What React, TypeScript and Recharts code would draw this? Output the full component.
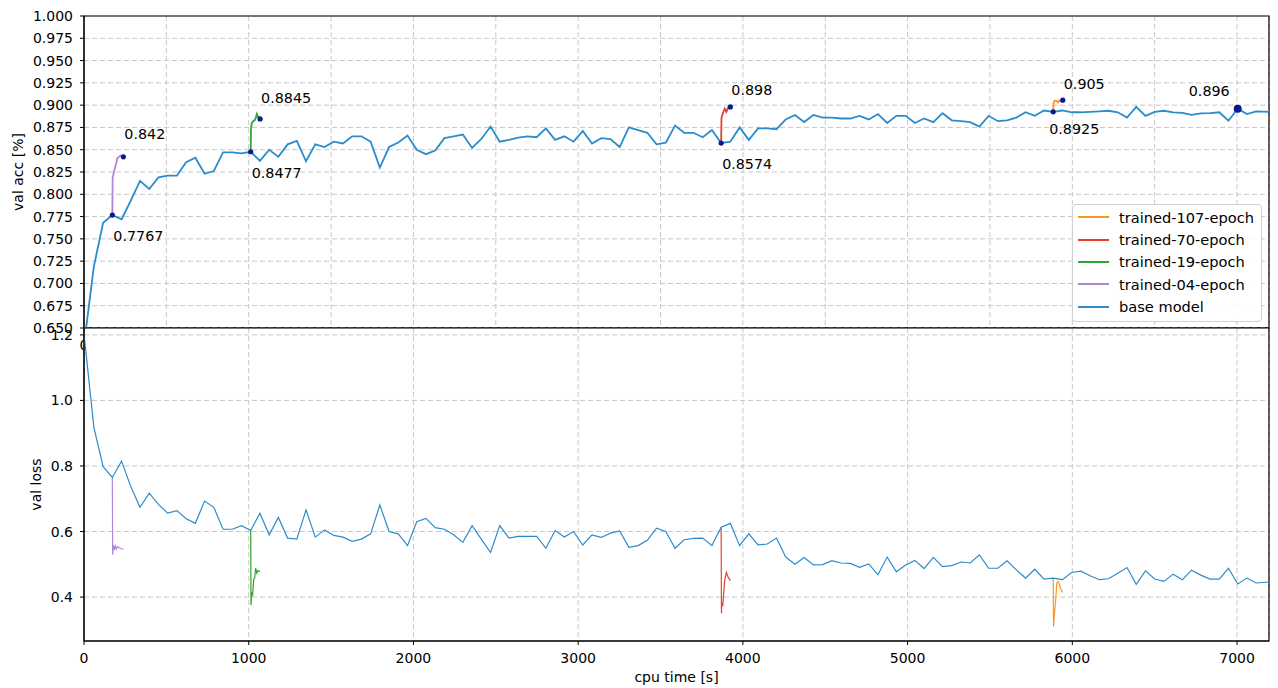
import React from 'react';
import { LineChart, Line, XAxis, YAxis, CartesianGrid, ReferenceDot, ReferenceArea, Legend } from 'recharts';

// base model: cpu time [s], val acc, val loss per epoch
const cpuTime = [
  4, 60, 116, 172, 228, 284, 340, 396, 452, 508, 564, 620, 676, 732, 788, 844, 900, 956, 1012, 1068,
  1124, 1180, 1236, 1292, 1348, 1404, 1460, 1516, 1572, 1628, 1684, 1740, 1796, 1852, 1908, 1964, 2020, 2076, 2132, 2188,
  2244, 2300, 2356, 2412, 2468, 2524, 2580, 2636, 2692, 2748, 2804, 2860, 2916, 2972, 3028, 3084, 3140, 3196, 3252, 3308,
  3364, 3420, 3476, 3532, 3588, 3644, 3700, 3756, 3812, 3868, 3924, 3980, 4036, 4092, 4148, 4204, 4260, 4316, 4372, 4428,
  4484, 4540, 4596, 4652, 4708, 4764, 4820, 4876, 4932, 4988, 5044, 5100, 5156, 5212, 5268, 5324, 5380, 5436, 5492, 5548,
  5604, 5660, 5716, 5772, 5828, 5884, 5940, 5996, 6052, 6108, 6164, 6220, 6276, 6332, 6388, 6444, 6500, 6556, 6612, 6668,
  6724, 6780, 6836, 6892, 6948, 7004, 7060, 7116, 7194,
];
const baseAcc = [
  0.637, 0.719, 0.768, 0.7767, 0.772, 0.793, 0.815, 0.806, 0.819, 0.821, 0.821, 0.836, 0.841, 0.823, 0.826, 0.847, 0.847, 0.846, 0.8477, 0.8375,
  0.85, 0.842, 0.856, 0.86, 0.837, 0.856, 0.853, 0.859, 0.857, 0.865, 0.865, 0.859, 0.83, 0.853, 0.858, 0.866, 0.85, 0.845, 0.849, 0.863,
  0.865, 0.867, 0.852, 0.862, 0.876, 0.859, 0.861, 0.8635, 0.865, 0.864, 0.874, 0.861, 0.865, 0.859, 0.871, 0.857, 0.863, 0.862, 0.853, 0.875,
  0.872, 0.869, 0.856, 0.858, 0.877, 0.869, 0.869, 0.864, 0.872, 0.8574, 0.859, 0.875, 0.861, 0.874, 0.874, 0.873, 0.884, 0.889, 0.881, 0.889,
  0.886, 0.886, 0.885, 0.885, 0.888, 0.884, 0.89, 0.88, 0.888, 0.888, 0.88, 0.885, 0.881, 0.891, 0.883, 0.882, 0.881, 0.876, 0.888, 0.882,
  0.883, 0.886, 0.892, 0.888, 0.894, 0.8925, 0.894, 0.892, 0.892, 0.8925, 0.893, 0.8937, 0.892, 0.886, 0.898, 0.888, 0.8925, 0.8937, 0.892, 0.8914,
  0.889, 0.8907, 0.891, 0.892, 0.8825, 0.896, 0.89, 0.893, 0.8925,
];
const baseLoss = [
  1.184, 0.918, 0.798, 0.765, 0.815, 0.737, 0.674, 0.717, 0.683, 0.656, 0.664, 0.639, 0.625, 0.693, 0.674, 0.607, 0.607, 0.618, 0.603, 0.656,
  0.59, 0.643, 0.58, 0.577, 0.666, 0.583, 0.605, 0.588, 0.583, 0.57, 0.577, 0.593, 0.681, 0.6, 0.593, 0.557, 0.63, 0.64, 0.612, 0.607,
  0.59, 0.567, 0.618, 0.577, 0.536, 0.618, 0.58, 0.585, 0.585, 0.585, 0.549, 0.603, 0.583, 0.6, 0.559, 0.59, 0.582, 0.595, 0.602, 0.552,
  0.557, 0.573, 0.61, 0.6, 0.549, 0.575, 0.579, 0.58, 0.557, 0.613, 0.625, 0.557, 0.593, 0.559, 0.562, 0.58, 0.522, 0.5, 0.521, 0.498,
  0.499, 0.511, 0.504, 0.503, 0.491, 0.501, 0.468, 0.522, 0.477, 0.498, 0.512, 0.487, 0.521, 0.493, 0.496, 0.507, 0.504, 0.529, 0.488, 0.488,
  0.511, 0.483, 0.458, 0.485, 0.455, 0.458, 0.453, 0.475, 0.479, 0.465, 0.453, 0.456, 0.473, 0.49, 0.439, 0.48, 0.455, 0.448, 0.47, 0.453,
  0.482, 0.467, 0.455, 0.455, 0.488, 0.44, 0.458, 0.443, 0.446,
];

// fine-tuned branches
const e04Time = [172, 174, 178, 184, 190, 196, 202, 212, 222, 239];
const e04Acc = [0.7767, 0.819, 0.822, 0.827, 0.831, 0.835, 0.8405, 0.842, 0.8435, 0.842];
const e04Loss = [0.765, 0.529, 0.559, 0.544, 0.556, 0.546, 0.554, 0.551, 0.549, 0.546];

const e19Time = [1012, 1014, 1018, 1024, 1030, 1036, 1042, 1049, 1056, 1069];
const e19Acc = [0.8477, 0.874, 0.8795, 0.881, 0.8825, 0.883, 0.885, 0.89, 0.887, 0.8845];
const e19Loss = [0.603, 0.376, 0.412, 0.407, 0.453, 0.458, 0.488, 0.473, 0.481, 0.478];

const e70Time = [3868, 3870, 3872, 3878, 3890, 3900, 3910, 3924];
const e70Acc = [0.8574, 0.885, 0.887, 0.8907, 0.896, 0.8925, 0.897, 0.898];
const e70Loss = [0.613, 0.351, 0.382, 0.376, 0.453, 0.475, 0.461, 0.45];

const e107Time = [5884, 5886, 5892, 5899, 5906, 5913, 5920, 5928, 5942];
const e107Acc = [0.8925, 0.902, 0.905, 0.905, 0.9045, 0.903, 0.905, 0.9045, 0.9056];
const e107Loss = [0.458, 0.31, 0.351, 0.392, 0.443, 0.448, 0.44, 0.427, 0.414];

// annotated points (start / end of each branch + best base value)
const markTime = [172, 239, 1012, 1069, 3868, 3924, 5884, 5942, 7004];
const markAcc = [0.7767, 0.842, 0.8477, 0.8845, 0.8574, 0.898, 0.8925, 0.9056, 0.896];
const markText = ['0.7767', '0.842', '0.8477', '0.8845', '0.8574', '0.898', '0.8925', '0.905', '0.896'];

const accTicks = [0.65, 0.675, 0.7, 0.725, 0.75, 0.775, 0.8, 0.825, 0.85, 0.875, 0.9, 0.925, 0.95, 0.975, 1.0];
const lossTicks = [0.4, 0.6, 0.8, 1.0, 1.2];
const topTimeTicks = [0, 500, 1000, 1500, 2000, 2500, 3000, 3500, 4000, 4500, 5000, 5500, 6000, 6500, 7000];
const timeTicks = [0, 1000, 2000, 3000, 4000, 5000, 6000, 7000];

const X_MAX = 7194;
const ACC_DOMAIN = [0.65, 1.0];
const LOSS_DOMAIN = [0.266, 1.221];

const FONT = 'DejaVu Sans';
const NAVY = '#0b1a8c';

const rows = (t: number[], acc: number[], loss: number[]) =>
  t.map((v, i) => ({ t: v, acc: acc[i], loss: loss[i] }));

const series = [
  { name: 'trained-107-epoch', color: '#ff9421', data: rows(e107Time, e107Acc, e107Loss) },
  { name: 'trained-70-epoch', color: '#e8402f', data: rows(e70Time, e70Acc, e70Loss) },
  { name: 'trained-19-epoch', color: '#2ea52e', data: rows(e19Time, e19Acc, e19Loss) },
  { name: 'trained-04-epoch', color: '#ad88da', data: rows(e04Time, e04Acc, e04Loss) },
  { name: 'base model', color: '#2c8ccb', data: rows(cpuTime, baseAcc, baseLoss) },
];

// label placement relative to the dot: [dx, dy, anchor]
const markLabelPos: [number, number, 'start' | 'end'][] = [
  [1, 21, 'start'], [1, -23, 'start'], [1, 21, 'start'], [1, -21, 'start'],
  [1, 21, 'start'], [1, -17, 'start'], [-4, 17, 'start'], [1, -16, 'start'], [-8, -18, 'end'],
];

const tickStyle = { fill: '#000', fontSize: 14, fontFamily: FONT };

const AnnoLabel = (props: any) => {
  const { viewBox, txt, offX, offY, anchor } = props;
  const cx = viewBox.x + viewBox.width / 2;
  const cy = viewBox.y + viewBox.height / 2;
  return (
    <text x={cx + offX} y={cy + offY} textAnchor={anchor} dominantBaseline="central"
      fontSize={14.3} fontFamily={FONT} fill="#000">{txt}</text>
  );
};

const YLabel = (props: any) => {
  const { viewBox, txt, at } = props;
  const x = viewBox.x + at;
  const y = viewBox.y + viewBox.height / 2;
  return (
    <text x={x} y={y} transform={`rotate(-90, ${x}, ${y})`} textAnchor="middle" dominantBaseline="central"
      fontSize={14} fontFamily={FONT} fill="#000">{txt}</text>
  );
};

const XLabel = (props: any) => {
  const { viewBox } = props;
  return (
    <text x={viewBox.x + viewBox.width / 2} y={viewBox.y + 41} textAnchor="middle"
      fontSize={14} fontFamily={FONT} fill="#000">cpu time [s]</text>
  );
};

const LegendBox = () => (
  <div style={{
    border: '1px solid #d0d0d0', borderRadius: 4, background: 'rgba(255,255,255,0.85)',
    padding: '1px 0 3px 0', fontFamily: FONT, fontSize: 14.6, color: '#000', boxSizing: 'border-box',
  }}>
    {series.map((s) => (
      <div key={s.name} style={{ height: 22.4, display: 'flex', alignItems: 'center' }}>
        <svg width={46} height={4} style={{ flex: 'none' }}>
          <line x1={5} y1={2} x2={36} y2={2} stroke={s.color} strokeWidth={2} />
        </svg>
        <span style={{ whiteSpace: 'nowrap' }}>{s.name}</span>
      </div>
    ))}
  </div>
);

export default function App() {
  return (
    <div style={{ position: 'absolute', left: 0, top: 0, width: 1278, height: 688, background: '#fff', fontFamily: FONT }}>
      <div style={{ position: 'absolute', left: 0, top: 0 }}>
        <LineChart width={1278} height={360} margin={{ top: 16, right: 9, bottom: 2, left: 0 }}>
          <CartesianGrid stroke="#c8c8c8" strokeDasharray="5 3" />
          <XAxis type="number" dataKey="t" domain={[0, X_MAX]} ticks={topTimeTicks} interval={0}
            allowDataOverflow height={30} tickSize={4} tickMargin={8} tick={tickStyle}
            stroke="#000" tickLine={{ stroke: '#000' }} />
          <YAxis type="number" domain={ACC_DOMAIN} ticks={accTicks} interval={0} allowDataOverflow width={84}
            tickSize={4} tickMargin={7} tick={tickStyle} tickFormatter={(v: number) => v.toFixed(3)}
            stroke="#000" tickLine={{ stroke: '#000' }}
            label={<YLabel txt="val acc [%]" at={17.5} />} />
          {series.map((s) => (
            <Line key={s.name} data={s.data} dataKey="acc" name={s.name} type="linear" stroke={s.color}
              strokeWidth={1.8} dot={false} activeDot={false} isAnimationActive={false} />
          ))}
          <ReferenceArea x1={0} x2={X_MAX} y1={ACC_DOMAIN[0]} y2={ACC_DOMAIN[1]} fill="none" stroke="#000"
            strokeWidth={1.2} ifOverflow="visible" />
          {markTime.map((t, i) => (
            <ReferenceDot key={i} x={t} y={markAcc[i]} r={i === markTime.length - 1 ? 4 : 2.6} fill={NAVY} stroke="none"
              ifOverflow="visible"
              label={<AnnoLabel txt={markText[i]} offX={markLabelPos[i][0]} offY={markLabelPos[i][1]} anchor={markLabelPos[i][2]} />} />
          ))}
          <Legend layout="vertical" align="center" verticalAlign="middle"
            wrapperStyle={{ left: 1072, top: 204, width: 190 }} content={() => <LegendBox />} />
        </LineChart>
      </div>
      <div style={{ position: 'absolute', left: 0, top: 318 }}>
        <LineChart width={1278} height={370} margin={{ top: 10, right: 9, bottom: 0, left: 0 }}>
          <CartesianGrid stroke="#c8c8c8" strokeDasharray="5 3" fill="#fff" fillOpacity={1} />
          <XAxis type="number" dataKey="t" domain={[0, X_MAX]} ticks={timeTicks} interval={0}
            allowDataOverflow height={47} tickSize={4} tickMargin={8} tick={tickStyle}
            stroke="#000" tickLine={{ stroke: '#000' }} label={<XLabel />} />
          <YAxis type="number" domain={LOSS_DOMAIN} ticks={lossTicks} interval={0} allowDataOverflow width={84}
            tickSize={4} tickMargin={7} tick={tickStyle} tickFormatter={(v: number) => v.toFixed(1)}
            stroke="#000" tickLine={{ stroke: '#000' }}
            label={<YLabel txt="val loss" at={36} />} />
          {series.map((s) => (
            <Line key={s.name} data={s.data} dataKey="loss" name={s.name} type="linear" stroke={s.color}
              strokeWidth={1.2} dot={false} activeDot={false} isAnimationActive={false} />
          ))}
          <ReferenceArea x1={0} x2={X_MAX} y1={LOSS_DOMAIN[0]} y2={LOSS_DOMAIN[1]} fill="none" stroke="#000"
            strokeWidth={1.2} ifOverflow="visible" />
        </LineChart>
      </div>
    </div>
  );
}
